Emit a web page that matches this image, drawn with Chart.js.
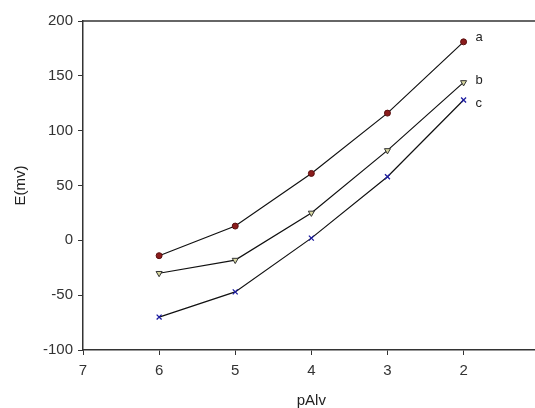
<!DOCTYPE html>
<html>
<head>
<meta charset="utf-8">
<script src="https://cdn.jsdelivr.net/npm/chart.js@4/dist/chart.umd.min.js"></script>
<style>
  html, body { margin: 0; padding: 0; background: #fff; overflow: hidden; }
  #wrap { width: 535px; height: 408px; overflow: hidden; }
</style>
</head>
<body>
<div id="wrap"><canvas id="potentialChart" width="545" height="408"></canvas></div>
<script>
// values
const pAlv = [6, 5, 4, 3, 2];
const seriesA = [-14, 13, 61, 116, 181];
const seriesB = [-30, -18, 25, 82, 144];
const seriesC = [-70, -47, 2, 58, 128];
const seriesNames = ['a', 'b', 'c'];
const yTicks = [-100, -50, 0, 50, 100, 150, 200];

const toPoints = vals => vals.map((v, i) => ({ x: pAlv[i], y: v }));

// top frame line plus the end-of-line letters
const framePlugin = {
    id: 'frame',
    afterDraw(chart) {
        const { ctx, chartArea } = chart;
        ctx.save();
        ctx.strokeStyle = '#333';
        ctx.lineWidth = 1.5;
        ctx.beginPath();
        ctx.moveTo(chartArea.left, chartArea.top);
        ctx.lineTo(chart.width, chartArea.top);
        ctx.stroke();

        ctx.fillStyle = '#222';
        ctx.font = '13px Arial, "Liberation Sans", sans-serif';
        ctx.textBaseline = 'middle';
        chart.data.datasets.forEach((ds, i) => {
            const meta = chart.getDatasetMeta(i);
            const last = meta.data[meta.data.length - 1];
            const dy = i === 0 ? -4 : (i === 1 ? -2 : 3);
            ctx.fillText(seriesNames[i], last.x + 12, last.y + dy);
        });
        ctx.restore();
    }
};

const ctx = document.getElementById('potentialChart').getContext('2d');
new Chart(ctx, {
    type: 'line',
    data: {
        datasets: [{
            label: 'a',
            data: toPoints(seriesA),
            borderColor: '#111',
            borderWidth: 1.2,
            pointStyle: 'circle',
            pointRadius: 3,
            pointBackgroundColor: '#8b1c1c',
            pointBorderColor: '#5a1010',
            pointBorderWidth: 1
        }, {
            label: 'b',
            data: toPoints(seriesB),
            borderColor: '#111',
            borderWidth: 1.2,
            pointStyle: 'triangle',
            rotation: 180,
            pointRadius: 3.5,
            pointBackgroundColor: '#d8d8a0',
            pointBorderColor: '#333',
            pointBorderWidth: 1
        }, {
            label: 'c',
            data: toPoints(seriesC),
            borderColor: '#111',
            borderWidth: 1.2,
            pointStyle: 'crossRot',
            pointRadius: 3.5,
            pointBorderColor: '#1c1ca0',
            pointBorderWidth: 1.3
        }]
    },
    options: {
        responsive: false,
        animation: false,
        layout: { padding: { top: 21, right: 0, left: 0, bottom: 0 } },
        plugins: {
            legend: { display: false },
            tooltip: { enabled: false }
        },
        scales: {
            x: {
                type: 'linear',
                reverse: true,
                min: 1,
                max: 7,
                afterBuildTicks: scale => {
                    scale.ticks = scale.ticks.filter(t => Number.isInteger(t.value) && t.value >= 2);
                },
                afterFit: scale => {
                    scale.height = 58;
                    scale.paddingLeft = 0;
                    scale.paddingRight = 0;
                },
                ticks: {
                    stepSize: 1,
                    color: '#333',
                    padding: 7,
                    font: { family: 'Arial, "Liberation Sans", sans-serif', size: 15 }
                },
                grid: {
                    display: true,
                    drawOnChartArea: false,
                    drawTicks: true,
                    tickLength: 5,
                    color: '#333'
                },
                border: { display: true, color: '#333', width: 1.5 },
                title: {
                    display: true,
                    text: 'pAlv',
                    color: '#222',
                    padding: { top: 0, bottom: 0 },
                    font: { family: 'Arial, "Liberation Sans", sans-serif', size: 15, lineHeight: 1 }
                }
            },
            y: {
                min: -100,
                max: 200,
                afterBuildTicks: scale => {
                    scale.ticks = yTicks.map(v => ({ value: v }));
                },
                afterFit: scale => { scale.width = 83; },
                ticks: {
                    color: '#333',
                    padding: 5,
                    font: { family: 'Arial, "Liberation Sans", sans-serif', size: 15 }
                },
                grid: {
                    display: true,
                    drawOnChartArea: false,
                    drawTicks: true,
                    tickLength: 5,
                    color: '#333'
                },
                border: { display: true, color: '#333', width: 1.5 },
                title: {
                    display: true,
                    text: 'E(mv)',
                    color: '#222',
                    padding: { top: 12, bottom: 4 },
                    font: { family: 'Arial, "Liberation Sans", sans-serif', size: 15 }
                }
            }
        }
    },
    plugins: [framePlugin]
});
</script>
</body>
</html>
